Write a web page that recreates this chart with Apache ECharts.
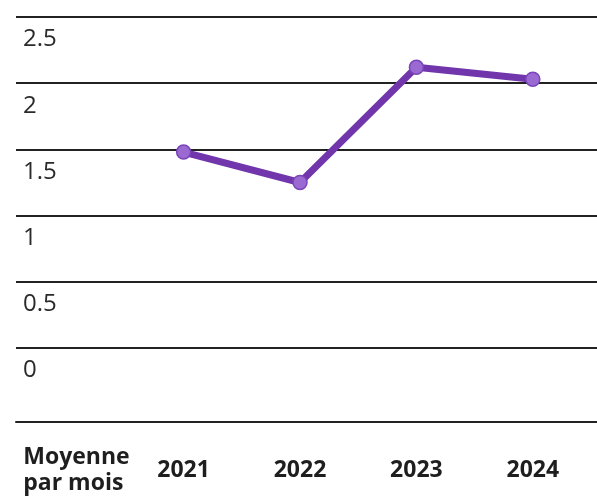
<!DOCTYPE html>
<html>
<head>
<meta charset="utf-8">
<script src="https://cdn.jsdelivr.net/npm/echarts@6/dist/echarts.min.js"></script>
<style>html,body{margin:0;padding:0;background:#fff;}#c{width:597px;height:497px;}</style>
</head>
<body>
<div id="c"></div>
<script>
var categories = ['Moyenne\npar mois', '2021', '2022', '2023', '2024'];
var values = [null, 1.48, 1.25, 2.12, 2.03];
var yMin = 0, yMax = 2.5, yStep = 0.5;

var chart = echarts.init(document.getElementById('c'), null, {renderer: 'canvas'});
var font = '"Open Sans", "Noto Sans", sans-serif';
chart.setOption({
  animation: false,
  backgroundColor: '#ffffff',
  grid: [
    {left: 16, right: 0, top: 17, bottom: 149},
    {left: 9, right: 6, top: 17, bottom: 149}
  ],
  xAxis: [
    {gridIndex: 0, type: 'category', data: categories, offset: 74,
     axisLine: {show: true, onZero: false, lineStyle: {color: '#222', width: 2}},
     axisTick: {show: false}, axisLabel: {show: false}, splitLine: {show: false}},
    {gridIndex: 1, type: 'category', data: categories, offset: 74,
     axisLine: {show: false, onZero: false}, axisTick: {show: false},
     axisLabel: {show: true, interval: 0, margin: 48, verticalAlign: 'middle',
       fontFamily: font, fontSize: 23, fontWeight: 'bold', color: '#1e1e1e', lineHeight: 26,
       formatter: function (v) {
         if (v.indexOf('\n') >= 0) {
           return v.split('\n').map(function (s) { return '{m|' + s + '}'; }).join('\n');
         }
         return v;
       },
       rich: {m: {fontFamily: font, fontSize: 23, fontWeight: 'bold', color: '#1e1e1e',
                  lineHeight: 26, width: 104, align: 'left', padding: [0, 0, 0, 16]}}}}
  ],
  yAxis: [
    {gridIndex: 0, type: 'value', min: yMin, max: yMax, interval: yStep,
     axisLine: {show: false}, axisTick: {show: false},
     splitLine: {show: true, lineStyle: {color: '#222', width: 2}},
     axisLabel: {inside: true, margin: 7, verticalAlign: 'top', lineHeight: 45,
       fontFamily: font, fontSize: 24, color: '#2a2a2a'}},
    {gridIndex: 1, type: 'value', min: yMin, max: yMax, interval: yStep, show: false,
     splitLine: {show: false}}
  ],
  series: [{
    type: 'line', xAxisIndex: 1, yAxisIndex: 1, data: values,
    symbol: 'circle', symbolSize: 14,
    lineStyle: {color: '#7136ab', width: 7},
    itemStyle: {color: '#9a6ad2', borderColor: '#7a45b8', borderWidth: 1.5},
    z: 5
  }]
});
</script>
</body>
</html>
